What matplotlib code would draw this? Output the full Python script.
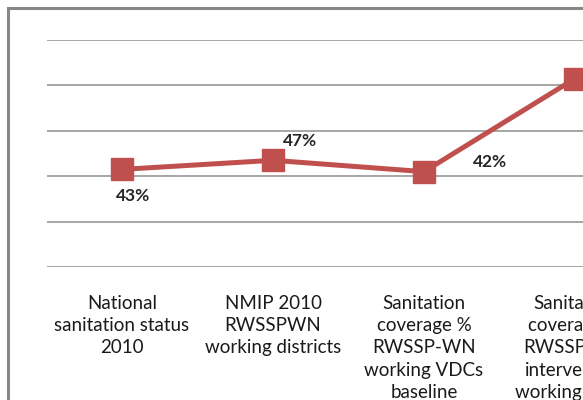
import matplotlib.pyplot as plt
from matplotlib.patches import Rectangle

categories = [
    'National\nsanitation status\n2010',
    'NMIP 2010\nRWSSPWN\nworking districts',
    'Sanitation\ncoverage %\nRWSSP-WN\nworking VDCs\nbaseline',
    'Sanitation\ncoverage %\nRWSSP-WN\nintervention\nworking VDCs',
]
coverage = [43, 47, 42, 83]
value_labels = ['43%', '47%', '42%', '83%']
# label offsets in pixels (dx, dy)
label_offsets = [(11, -27), (27, 19), (66, 10), (70, 0)]

plt.rcParams['font.family'] = ['Lato', 'DejaVu Sans']

fig = plt.figure(figsize=(5.83, 4.0), dpi=100)
ax = fig.add_axes([46.5 / 583, 133 / 400, 1 - 46.5 / 583, 227 / 400])

x = list(range(len(categories)))
ax.plot(x, coverage, color='#C0504D', linewidth=3.6, marker='s',
        markersize=16, markerfacecolor='#C0504D', markeredgecolor='#C0504D',
        zorder=3, clip_on=False)

for xi, yi, txt, (dx, dy) in zip(x, coverage, value_labels, label_offsets):
    ax.annotate(txt, (xi, yi), xytext=(dx, dy), textcoords='offset pixels',
                ha='center', va='center', fontsize=12.5, fontweight='bold',
                color='#262626')

ax.set_ylim(0, 100)
ax.set_yticks([0, 20, 40, 60, 80, 100])
ax.set_yticklabels([])
ax.set_xlim(-0.5, (583 - 46.5) / 151 - 0.5)
ax.set_xticks(x)
ax.set_xticklabels(categories, fontsize=13.5, color='#1a1a1a', linespacing=1.38)
ax.tick_params(axis='both', length=0)
ax.tick_params(axis='x', pad=20)

ax.grid(axis='y', color='#A6A6A6', linewidth=1.4)
ax.set_axisbelow(True)
for s in ax.spines.values():
    s.set_visible(False)

# outer chart border (only top and left visible in the crop)
fig.patches.append(Rectangle((8 / 583, -0.1), 1.2, (400 - 8) / 400 + 0.1,
                             transform=fig.transFigure, fill=False,
                             edgecolor='#878787', linewidth=2.2))

fig.savefig('out.png', dpi=100)
